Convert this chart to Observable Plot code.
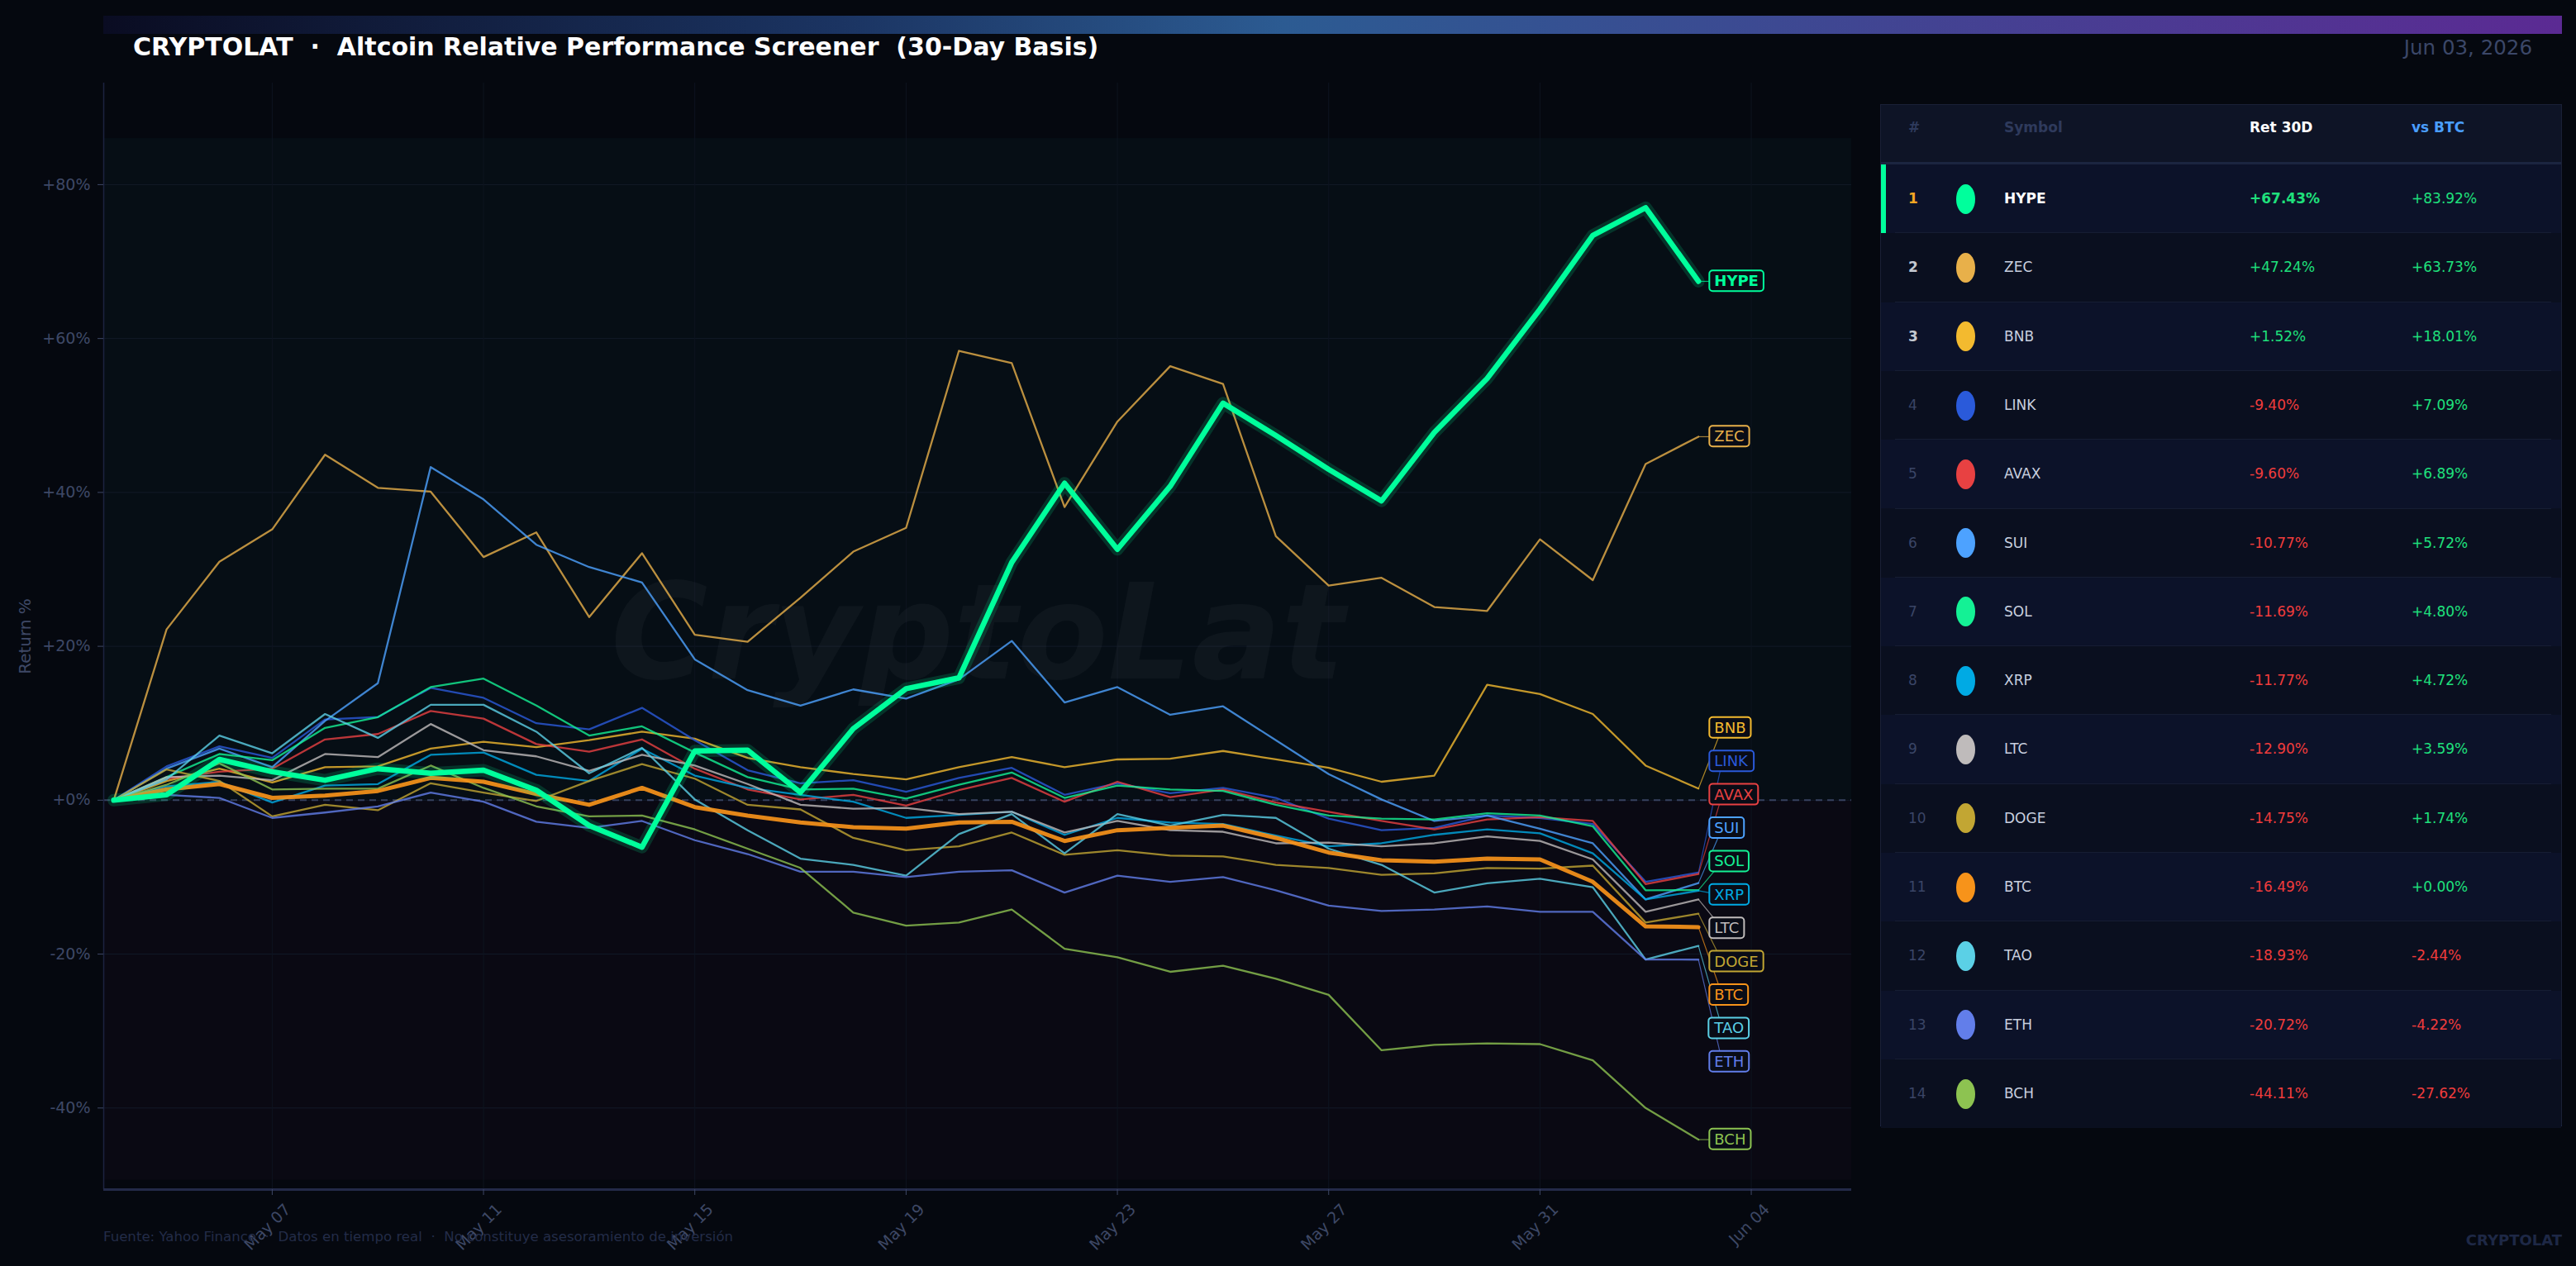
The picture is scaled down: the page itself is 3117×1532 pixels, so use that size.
<!DOCTYPE html>
<html>
<head>
<meta charset="utf-8">
<script src="https://cdn.jsdelivr.net/npm/d3@7"></script>
<script src="https://cdn.jsdelivr.net/npm/@observablehq/plot@0.6"></script>
<style>
  html, body { margin:0; padding:0; background:#05080f; }
  body { width:3117px; height:1532px; position:relative; overflow:hidden; font-family:"DejaVu Sans", sans-serif; }
  .abs { position:absolute; white-space:pre; line-height:1; }
  #bar { position:absolute; left:125px; top:19px; width:2975px; height:22px;
         background:linear-gradient(90deg,#0a0c22 0%,#1b3462 30%,#2c5b92 48%,#3a4c92 65%,#5b2a93 100%); }
  #title { left:161px; top:42px; font-size:30px; font-weight:bold; color:#ffffff; }
  #date { right:53px; top:46px; font-size:24.5px; color:#3b4768; }
  #chart { position:absolute; left:0; top:0; }
  #footer { left:125px; top:1489px; font-size:16.6px; color:#232c48; }
  #brand { right:17px; top:1492px; font-size:18px; font-weight:bold; color:#1e2846; }
  #table { position:absolute; left:2275px; top:126px; width:825px; height:1237px; background:#0b1020;
           border:1px solid #1a2036; border-bottom:2px solid #1e2a50; box-sizing:border-box; }
  #table div { position:absolute; white-space:pre; }
</style>
</head>
<body>
<div id="bar"></div>
<div id="title" class="abs">CRYPTOLAT  ·  Altcoin Relative Performance Screener  (30-Day Basis)</div>
<div id="date" class="abs">Jun 03, 2026</div>
<div id="chart"></div>
<div id="table"></div>
<div id="footer" class="abs">Fuente: Yahoo Finance  ·  Datos en tiempo real  ·  No constituye asesoramiento de inversión</div>
<div id="brand" class="abs">CRYPTOLAT</div>
<script>
// ---------------- DATA ----------------
const START_DATE = "2026-05-04";
const N_DAYS = 31;
const X_TICKS = ["2026-05-07","2026-05-11","2026-05-15","2026-05-19","2026-05-23","2026-05-27","2026-05-31","2026-06-04"];
const Y_TICKS = [-40, -20, 0, 20, 40, 60, 80];

const SYMBOLS = ["HYPE","ZEC","BNB","LINK","AVAX","SUI","SOL","XRP","LTC","DOGE","BTC","TAO","ETH","BCH"];
const COLORS  = ["#00ff9c","#e8b04a","#f3ba2f","#2a5ada","#e84142","#4da2ff","#14f195","#00aae4","#bfbbbb","#c2a633","#f7931a","#5bd0e6","#627eea","#8dc351"];
const RET_30D = [67.43, 47.24, 1.52, -9.40, -9.60, -10.77, -11.69, -11.77, -12.90, -14.75, -16.49, -18.93, -20.72, -44.11];
const VS_BTC  = [83.92, 63.73, 18.01, 7.09, 6.89, 5.72, 4.80, 4.72, 3.59, 1.74, 0.00, -2.44, -4.22, -27.62];

const HYPE = [0, 0.7, 5.3, 3.7, 2.6, 4.1, 3.5, 3.9, 1.3, -3.3, -6.1, 6.4, 6.5, 1.0, 9.3, 14.5, 15.9, 30.9, 41.2, 32.6, 40.8, 51.6, 47.4, 43.0, 38.9, 47.8, 54.8, 63.8, 73.4, 77.0, 67.43];
const ZEC  = [0, 22.2, 31.0, 35.2, 44.9, 40.6, 40.1, 31.6, 34.8, 23.8, 32.1, 21.5, 20.6, 26.3, 32.3, 35.4, 58.4, 56.8, 38.1, 49.2, 56.4, 54.1, 34.3, 27.9, 28.9, 25.1, 24.6, 33.9, 28.6, 43.7, 47.24];
const BNB  = [0, 2.5, 4.1, 2.3, 4.3, 4.4, 6.7, 7.6, 6.9, 7.8, 8.9, 8.0, 5.5, 4.3, 3.4, 2.7, 4.3, 5.6, 4.3, 5.3, 5.4, 6.4, 5.3, 4.2, 2.4, 3.2, 15.0, 13.8, 11.2, 4.5, 1.52];
const LINK = [0, 4.4, 7.0, 5.5, 10.5, 10.8, 14.6, 13.3, 10.0, 9.2, 12.0, 7.8, 3.9, 2.2, 2.6, 1.1, 2.9, 4.2, 0.7, 2.2, 0.9, 1.6, 0.3, -2.4, -3.9, -3.6, -2.0, -2.3, -3.1, -10.6, -9.40];
const AVAX = [0, 2.8, 3.7, 4.1, 7.9, 8.6, 11.6, 10.6, 7.3, 6.3, 7.9, 4.1, 1.4, 0.1, 0.7, -0.7, 1.3, 2.9, -0.2, 2.4, 0.4, 1.4, -0.3, -1.5, -2.7, -3.8, -2.5, -2.2, -2.7, -10.9, -9.60];
const SUI  = [0, 4.1, 6.7, 4.3, 10.3, 15.2, 43.3, 39.1, 33.2, 30.3, 28.3, 18.3, 14.3, 12.3, 14.4, 13.2, 15.7, 20.7, 12.7, 14.7, 11.1, 12.2, 7.8, 3.4, 0.1, -2.7, -2.0, -3.7, -5.6, -12.9, -10.77];
const SOL  = [0, 3.0, 6.0, 5.2, 9.4, 10.8, 14.7, 15.8, 12.3, 8.4, 9.6, 6.2, 3.0, 1.4, 1.5, 0.2, 2.0, 3.6, 0.3, 1.9, 1.4, 1.2, -0.6, -2.0, -2.4, -2.5, -1.7, -2.0, -3.4, -11.7, -11.69];
const XRP  = [0, 1.8, 2.4, -0.3, 1.9, 2.1, 5.9, 6.2, 3.3, 2.5, 6.7, 3.2, 1.6, 0.7, -0.2, -2.3, -1.9, -1.5, -4.5, -2.3, -2.9, -3.1, -4.6, -6.0, -5.6, -4.5, -3.8, -4.3, -6.9, -12.9, -11.77];
const LTC  = [0, 3.0, 3.2, 2.6, 6.0, 5.6, 9.9, 6.5, 5.7, 3.8, 5.9, 4.5, 2.1, -0.6, -1.1, -1.0, -1.8, -1.5, -4.2, -2.7, -3.9, -4.1, -5.6, -5.5, -6.0, -5.6, -4.7, -5.3, -7.7, -14.5, -12.90];
const DOGE = [0, 4.0, 2.5, -2.1, -0.6, -1.3, 2.2, 1.0, -0.1, 2.5, 4.7, 2.8, -0.6, -1.2, -4.9, -6.5, -6.0, -4.2, -7.1, -6.5, -7.2, -7.3, -8.4, -8.8, -9.7, -9.5, -8.8, -8.9, -8.5, -15.9, -14.75];
const BTC  = [0, 1.4, 2.1, 0.3, 0.6, 1.2, 2.9, 2.4, 0.8, -0.6, 1.6, -0.9, -2.0, -2.9, -3.5, -3.7, -2.9, -2.8, -5.3, -3.9, -3.6, -3.3, -4.9, -6.8, -7.8, -8.0, -7.6, -7.7, -10.6, -16.4, -16.49];
const TAO  = [0, 2.7, 8.4, 6.1, 11.2, 8.1, 12.4, 12.4, 8.9, 3.5, 6.8, 0.1, -3.9, -7.6, -8.4, -9.8, -4.4, -1.8, -6.9, -1.8, -3.3, -1.9, -2.3, -6.3, -8.4, -12.0, -10.8, -10.2, -11.3, -20.7, -18.93];
const ETH  = [0, 0.7, 0.3, -2.3, -1.6, -0.8, 1.0, -0.2, -2.8, -3.6, -2.7, -5.2, -7.0, -9.3, -9.3, -10.0, -9.3, -9.1, -12.0, -9.8, -10.6, -10.0, -11.7, -13.7, -14.4, -14.2, -13.8, -14.5, -14.5, -20.7, -20.72];
const BCH  = [0, 2.0, 4.8, 1.4, 1.5, 1.5, 4.5, 1.6, -0.8, -2.1, -2.0, -3.8, -6.3, -8.8, -14.6, -16.3, -15.9, -14.2, -19.3, -20.4, -22.3, -21.5, -23.2, -25.3, -32.5, -31.8, -31.6, -31.7, -33.8, -40.0, -44.11];

const SERIES = {HYPE, ZEC, BNB, LINK, AVAX, SUI, SOL, XRP, LTC, DOGE, BTC, TAO, ETH, BCH};

// ---------------- BUILD ----------------
const DAY = 864e5;
const dates = d3.range(N_DAYS).map(i => d3.utcDay.offset(new Date(START_DATE), i));
const lastDate = dates[N_DAYS - 1];
const xDomain = [new Date(+dates[0] - 0.19 * DAY), new Date(+lastDate + 2.9 * DAY)];
const yDomain = [-50.6, 93.2];
const W = 2260, H = 1532, mL = 125, mR = 20, mT = 100, mB = 93;
const colorOf = Object.fromEntries(SYMBOLS.map((s, i) => [s, COLORS[i]]));
const tickDates = X_TICKS.map(d => new Date(d));

const tidy = [];
SYMBOLS.forEach(s => SERIES[s].forEach((v, i) => tidy.push({sym: s, date: dates[i], v, color: colorOf[s]})));
const others = tidy.filter(d => d.sym !== "HYPE" && d.sym !== "BTC");
const btc = tidy.filter(d => d.sym === "BTC");
const hype = tidy.filter(d => d.sym === "HYPE");

// label dodge (value units)
const pxPerUnit = (H - mT - mB) / (yDomain[1] - yDomain[0]);
const GAP = 40.4 / pxPerUnit;
function dodge(items) {
  let clusters = items.map(d => ({m: [d], c: d.v}));
  let changed = true;
  while (changed) {
    changed = false;
    for (let i = 0; i < clusters.length - 1; i++) {
      const a = clusters[i], b = clusters[i + 1];
      const aBot = a.c - (a.m.length - 1) * GAP / 2;
      const bTop = b.c + (b.m.length - 1) * GAP / 2;
      if (aBot - bTop < GAP) {
        const m = a.m.concat(b.m);
        clusters.splice(i, 2, {m, c: d3.mean(m, d => d.v)});
        changed = true; break;
      }
    }
  }
  clusters.forEach(cl => cl.m.forEach((d, k) => d.ly = cl.c + ((cl.m.length - 1) / 2 - k) * GAP));
  return items;
}
const labels = dodge(SYMBOLS.map((s, i) => ({sym: s, v: RET_30D[i], color: COLORS[i]})).sort((a, b) => b.v - a.v));
const labelX = new Date(+lastDate + 0.30 * DAY);
const leaderX = new Date(+lastDate + 0.45 * DAY);

const chart = Plot.plot({
  width: W, height: H,
  marginLeft: mL, marginRight: mR, marginTop: mT, marginBottom: mB,
  style: {background: "transparent", fontFamily: "DejaVu Sans", overflow: "visible"},
  x: {type: "utc", domain: xDomain},
  y: {domain: yDomain},
  color: {type: "identity"},
  marks: [
    Plot.rect([0], {x1: () => xDomain[0], x2: () => xDomain[1], y1: () => 0, y2: () => 86, fill: "#060e15"}),
    Plot.rect([0], {x1: () => xDomain[0], x2: () => xDomain[1], y1: () => -49.4, y2: () => 0, fill: "#0a0913"}),
    Plot.gridY(Y_TICKS, {stroke: "#121a28", strokeOpacity: 1}),
    Plot.gridX(tickDates, {stroke: "#0e1420", strokeOpacity: 1}),
    Plot.text(["CryptoLat"], {frameAnchor: "middle", fontSize: 160, fontWeight: "bold", fontStyle: "italic", fill: "#ffffff", fillOpacity: 0.035}),
    Plot.ruleY([0], {stroke: "#37415f", strokeWidth: 2, strokeDasharray: "8,6"}),
    Plot.line(others, {x: "date", y: "v", z: "sym", stroke: "color", strokeWidth: 2.3, strokeOpacity: 0.8}),
    Plot.line(btc, {x: "date", y: "v", stroke: "#f7931a", strokeWidth: 5, strokeOpacity: 0.92}),
    Plot.line(hype, {x: "date", y: "v", stroke: "#00ff9c", strokeWidth: 15, strokeOpacity: 0.16}),
    Plot.line(hype, {x: "date", y: "v", stroke: "#00ff9c", strokeWidth: 6.5}),
    Plot.link(labels, {x1: () => lastDate, y1: "v", x2: () => leaderX, y2: "ly", stroke: "color", strokeWidth: 1.2, strokeOpacity: 0.7}),
    Plot.text(labels.filter(d => d.sym !== "HYPE"), {x: () => labelX, y: "ly", text: "sym", fill: "color", textAnchor: "start", fontSize: 18, className: "lbl"}),
    Plot.text(labels.filter(d => d.sym === "HYPE"), {x: () => labelX, y: "ly", text: "sym", fill: "color", textAnchor: "start", fontSize: 18, fontWeight: "bold", className: "lbl"}),
    Plot.ruleX([xDomain[0]], {stroke: "#1c2340", strokeWidth: 1.5}),
    Plot.ruleY([yDomain[0]], {stroke: "#232a48", strokeWidth: 3}),
    Plot.axisY({ticks: Y_TICKS, tickFormat: d => (d >= 0 ? "+" : "") + d + "%", tickSize: 7, tickPadding: 9, fontSize: 19, color: "#3e4866", label: null}),
    Plot.axisX({ticks: tickDates, tickFormat: () => "", tickSize: 7, color: "#3e4866", label: null}),
    Plot.axisX({ticks: tickDates, tickFormat: d3.utcFormat("%b %d"), tickRotate: -45, tickSize: 0, tickPadding: 13, dx: 19, dy: 8, fontSize: 19, color: "#3e4866", label: null}),
    Plot.text(["Return %"], {frameAnchor: "left", textAnchor: "middle", dx: -95, rotate: -90, fontSize: 20, fill: "#3e4866"})
  ]
});
document.getElementById("chart").append(chart);

// boxes behind the end labels
const NS = "http://www.w3.org/2000/svg";
chart.querySelectorAll("g.lbl text").forEach(t => {
  const b = t.getBBox();
  const r = document.createElementNS(NS, "rect");
  r.setAttribute("x", b.x - 6); r.setAttribute("y", b.y - 2);
  r.setAttribute("width", b.width + 12); r.setAttribute("height", b.height + 4);
  r.setAttribute("rx", 4);
  r.setAttribute("fill", "#090c16");
  r.setAttribute("stroke", t.getAttribute("fill") || "#888");
  r.setAttribute("stroke-width", 2);
  if (t.getAttribute("transform")) r.setAttribute("transform", t.getAttribute("transform"));
  t.parentNode.insertBefore(r, t);
});

// ---------------- TABLE ----------------
const tbl = document.getElementById("table");
function el(props, text) {
  const d = document.createElement("div");
  Object.assign(d.style, props);
  if (text !== undefined) d.textContent = text;
  tbl.append(d);
  return d;
}
const TW = 823, HEADER_H = 70, ROW_H = 83.3;
const COL = {rank: 33, mark: 102, sym: 149, ret: 446, vs: 642};
el({left: "0px", top: "0px", width: TW + "px", height: HEADER_H + "px", background: "#0e1426"});
el({left: "0px", top: (HEADER_H - 1) + "px", width: TW + "px", height: "3px", background: "#1b2540"});
const hdr = [["#", COL.rank, "#2e3a5c"], ["Symbol", COL.sym, "#2e3a5c"], ["Ret 30D", COL.ret, "#ffffff"], ["vs BTC", COL.vs, "#4a9eff"]];
hdr.forEach(([t, x, c]) => el({left: x + "px", top: "-8px", height: HEADER_H + "px", lineHeight: HEADER_H + "px", fontSize: "17px", fontWeight: "bold", color: c}, t));
const fmt = v => (v >= 0 ? "+" : "") + v.toFixed(2) + "%";
SYMBOLS.forEach((s, i) => {
  const top = HEADER_H + 2 + i * ROW_H;
  el({left: "0px", top: top + "px", width: TW + "px", height: ROW_H + "px", background: i % 2 === 0 ? "#0c1229" : "#0a0f1f"});
  if (i < SYMBOLS.length - 1) el({left: "17px", top: (top + ROW_H - 1) + "px", width: "794px", height: "1px", background: "#161d33"});
  if (i === 0) el({left: "0px", top: top + "px", width: "6px", height: ROW_H + "px", background: "#00ff9c"});
  const rankColor = i === 0 ? "#f5a623" : i < 3 ? "#c4c8d0" : "#3a4566";
  const cell = {top: top + "px", height: ROW_H + "px", lineHeight: ROW_H + "px", fontSize: "17px"};
  el({...cell, left: COL.rank + "px", color: rankColor, fontWeight: i < 3 ? "bold" : "normal"}, String(i + 1));
  el({left: (COL.mark - 11.5) + "px", top: (top + ROW_H / 2 - 18) + "px", width: "23px", height: "36px", borderRadius: "50%", background: COLORS[i]});
  el({...cell, left: COL.sym + "px", color: i === 0 ? "#ffffff" : "#c8cfdf", fontWeight: i === 0 ? "bold" : "normal"}, s);
  el({...cell, left: COL.ret + "px", color: RET_30D[i] >= 0 ? "#1fe07c" : "#f03c3c", fontWeight: i === 0 ? "bold" : "normal"}, fmt(RET_30D[i]));
  el({...cell, left: COL.vs + "px", color: VS_BTC[i] >= 0 ? "#1fe07c" : "#f03c3c"}, fmt(VS_BTC[i]));
});
</script>
</body>
</html>
